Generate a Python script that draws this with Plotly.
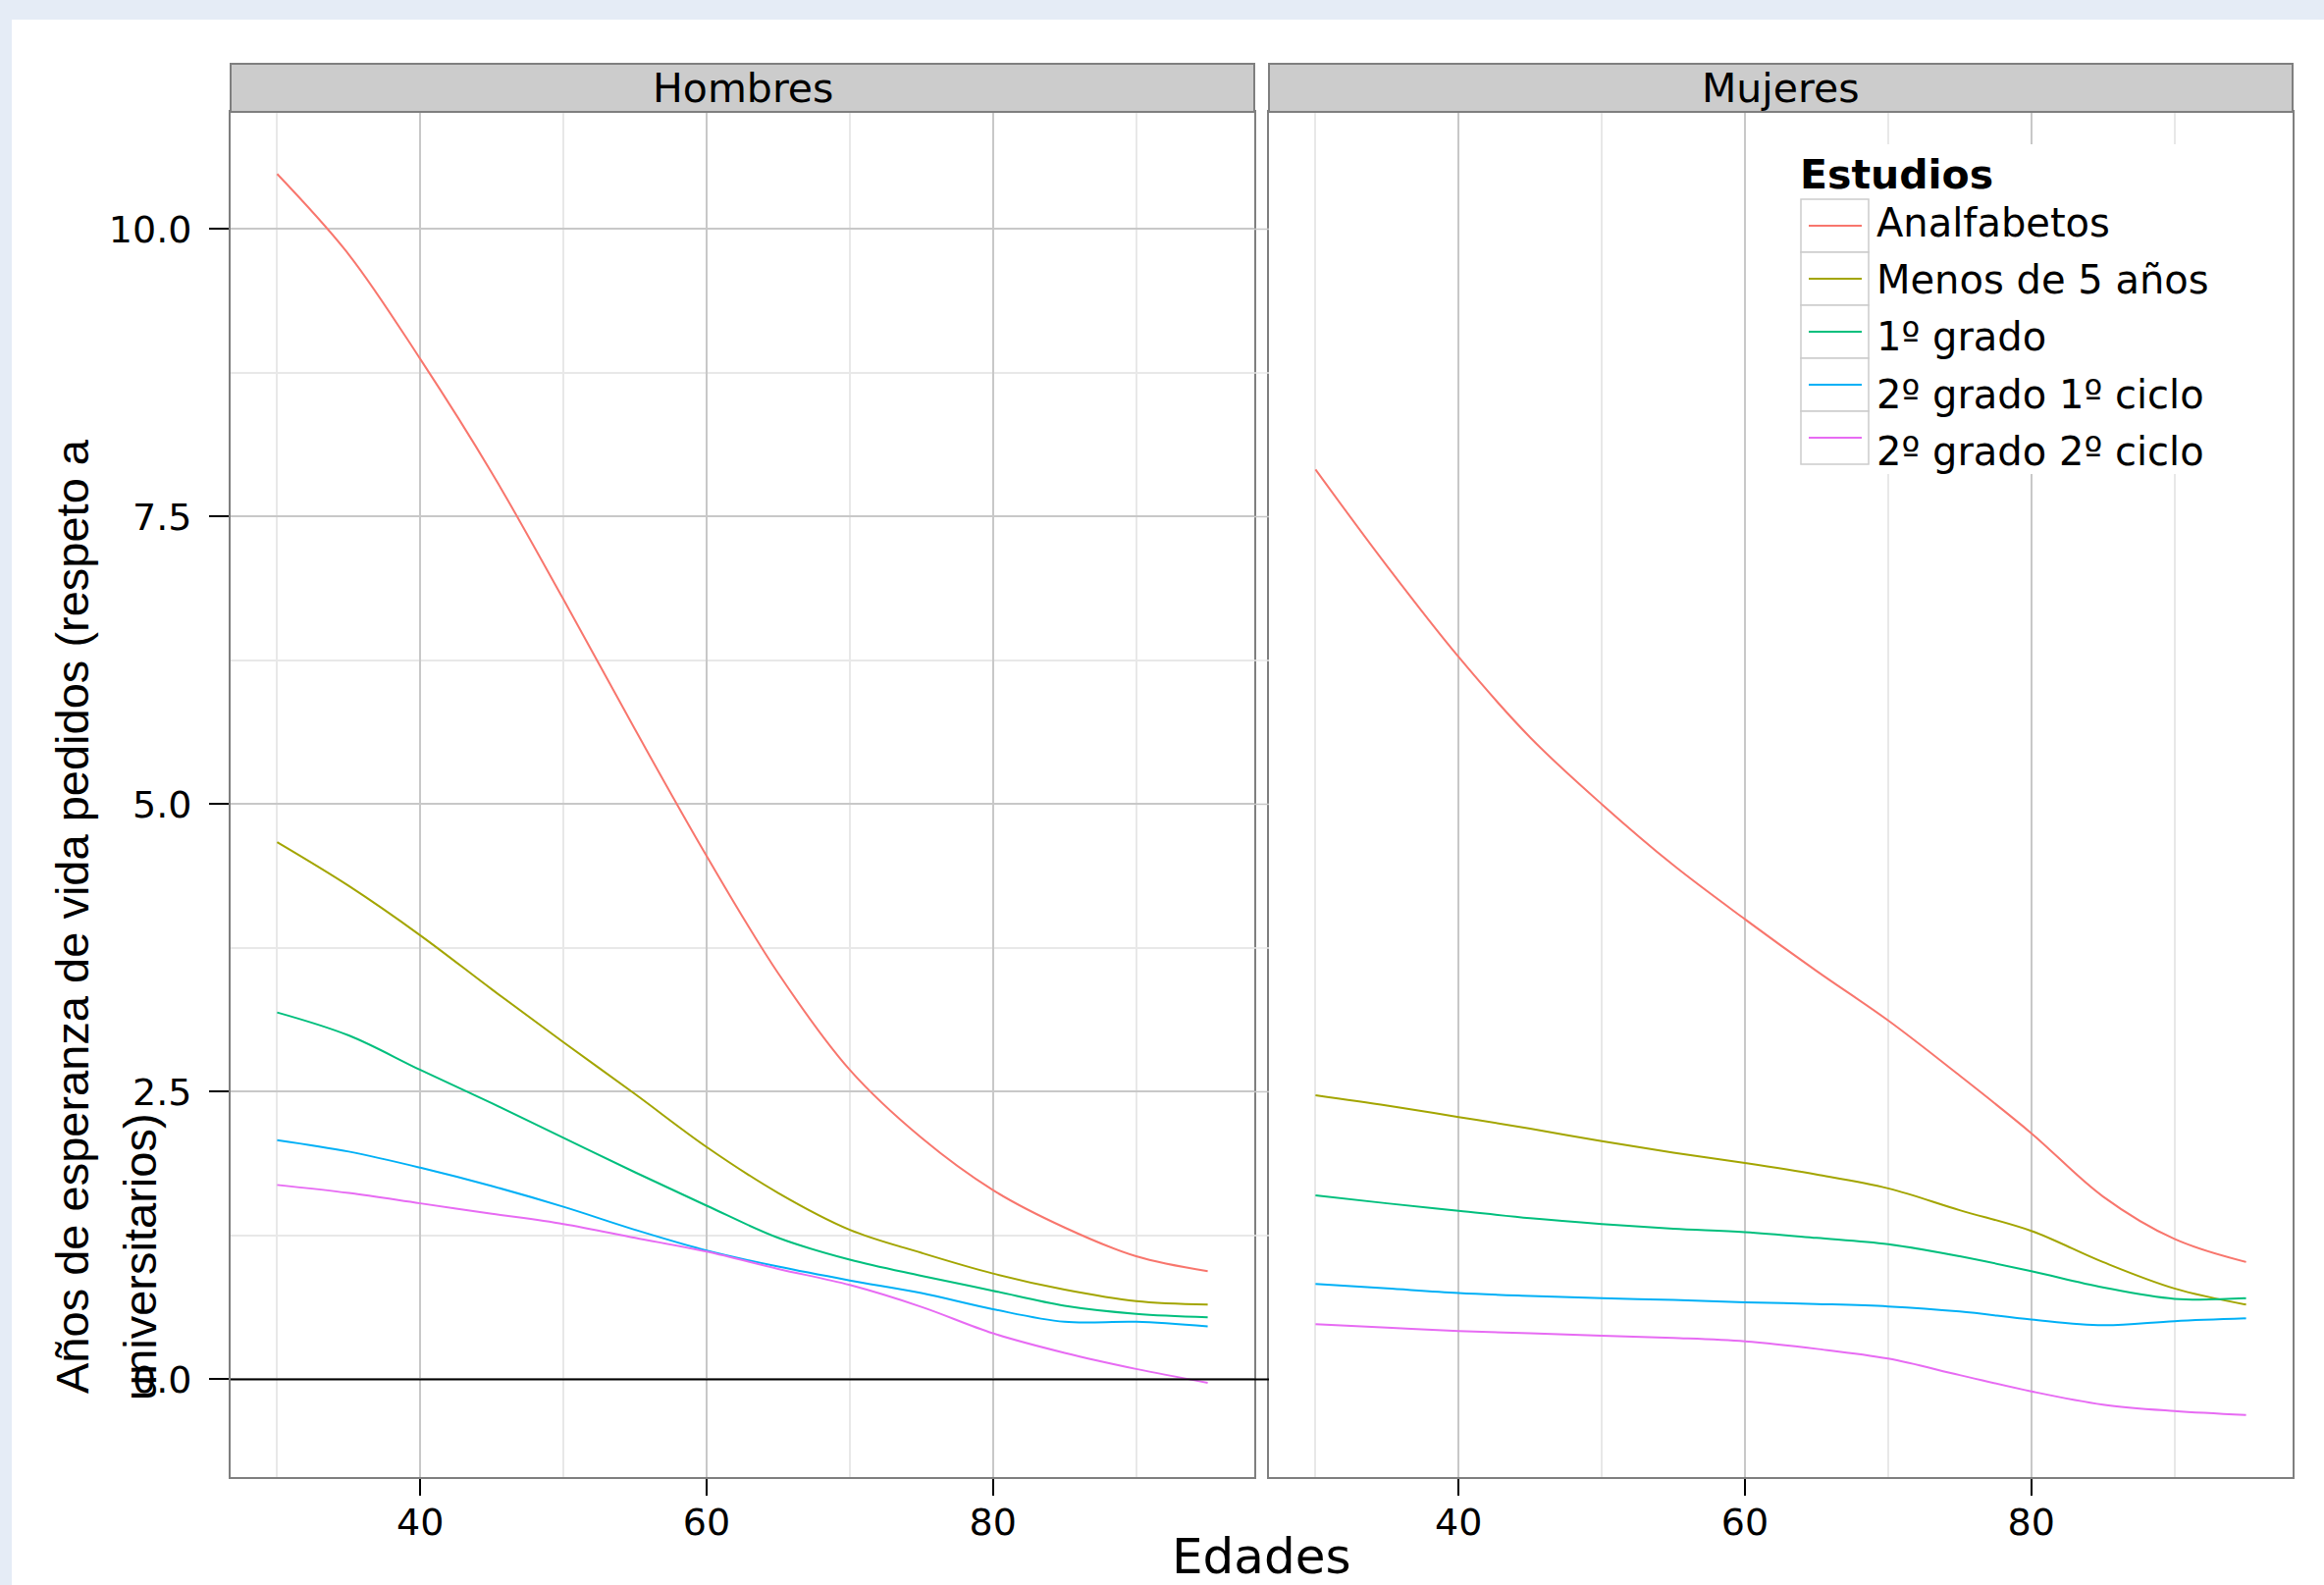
import plotly.graph_objects as go

# ---------------- data ----------------
edades = [30, 35, 40, 45, 50, 55, 60, 65, 70, 75, 80, 85, 90, 95]
niveles = ["Analfabetos", "Menos de 5 años", "1º grado", "2º grado 1º ciclo", "2º grado 2º ciclo"]
paneles = ["Hombres", "Mujeres"]

hombres_analfabetos = [10.48, 9.78, 8.87, 7.88, 6.78, 5.65, 4.55, 3.53, 2.69, 2.10, 1.645, 1.32, 1.07, 0.94]
hombres_menos5 = [4.67, 4.29, 3.86, 3.39, 2.93, 2.48, 2.02, 1.62, 1.30, 1.10, 0.92, 0.78, 0.68, 0.65]
hombres_1grado = [3.19, 2.99, 2.69, 2.40, 2.10, 1.80, 1.51, 1.23, 1.04, 0.90, 0.77, 0.64, 0.57, 0.54]
hombres_2grado1 = [2.08, 1.98, 1.84, 1.68, 1.50, 1.30, 1.12, 0.98, 0.86, 0.75, 0.61, 0.50, 0.50, 0.46]
hombres_2grado2 = [1.69, 1.62, 1.53, 1.44, 1.35, 1.23, 1.11, 0.96, 0.82, 0.63, 0.40, 0.23, 0.09, -0.03]

mujeres_analfabetos = [7.91, 7.07, 6.28, 5.58, 5.00, 4.47, 4.00, 3.55, 3.12, 2.64, 2.14, 1.59, 1.22, 1.02]
mujeres_menos5 = [2.47, 2.38, 2.28, 2.18, 2.07, 1.97, 1.88, 1.78, 1.66, 1.47, 1.29, 1.02, 0.79, 0.65]
mujeres_1grado = [1.60, 1.53, 1.465, 1.40, 1.35, 1.31, 1.28, 1.23, 1.175, 1.07, 0.94, 0.80, 0.70, 0.705]
mujeres_2grado1 = [0.83, 0.79, 0.75, 0.725, 0.705, 0.69, 0.67, 0.655, 0.634, 0.59, 0.52, 0.47, 0.506, 0.53]
mujeres_2grado2 = [0.48, 0.45, 0.42, 0.40, 0.38, 0.36, 0.33, 0.265, 0.18, 0.037, -0.105, -0.22, -0.276, -0.31]

y_tickvals = [0, 2.5, 5, 7.5, 10]
y_ticktext = ["0.0", "2.5", "5.0", "7.5", "10.0"]

titulo_x = "Edades"
titulo_y_lineas = ["Años de esperanza de vida pedidos (respeto a", "universitarios)"]
titulo_leyenda = "Estudios"

# ---------------- style ----------------
colores = ["#F8766D", "#A3A500", "#00BF7D", "#00B0F6", "#E76BF3"]
W, H = 2368, 1615
FONT = "DejaVu Sans"
FONT_T = "Liberation Sans, Arial"

def px(x):
    return x / W

def py(y):
    return 1 - y / H

L1, R1 = 235, 1278
L2, R2 = 1293, 2336
TOP, BOT = 114, 1505
STRIP_TOP = 65

datos = {
    "Hombres": [hombres_analfabetos, hombres_menos5, hombres_1grado, hombres_2grado1, hombres_2grado2],
    "Mujeres": [mujeres_analfabetos, mujeres_menos5, mujeres_1grado, mujeres_2grado1, mujeres_2grado2],
}

fig = go.Figure()
for p_i, panel in enumerate(paneles):
    for s_i, nivel in enumerate(niveles):
        fig.add_trace(go.Scatter(
            x=edades, y=datos[panel][s_i], name=nivel, mode="lines",
            line=dict(color=colores[s_i], width=2, shape="spline", smoothing=1.0),
            xaxis="x" if p_i == 0 else "x2", yaxis="y" if p_i == 0 else "y2",
            showlegend=False, legendgroup=nivel,
        ))

xr = [26.75, 98.25]
yr = [-0.8495, 11.0195]
tickfont = dict(family=FONT, size=38, color="black")

xcommon = dict(range=xr, tickmode="linear", tick0=0, dtick=20, ticks="outside", ticklen=17,
               tickwidth=2, tickcolor="black", showline=True, linecolor="#7f7f7f", linewidth=2,
               mirror=True, showgrid=True, gridcolor="#c8c8c8", gridwidth=1.5,
               minor=dict(tick0=0, dtick=10, showgrid=True, gridcolor="#e8e8e8", gridwidth=1.5),
               zeroline=False, tickfont=tickfont, automargin=False, fixedrange=True,
               ticklabelstandoff=-6)

fig.update_layout(
    width=W, height=H,
    margin=dict(l=0, r=0, t=0, b=0),
    paper_bgcolor="#e5ecf6", plot_bgcolor="white",
    showlegend=False,
    xaxis=dict(domain=[px(L1), px(R1)], anchor="y", **xcommon),
    xaxis2=dict(domain=[px(L2), px(R2)], anchor="y2", **xcommon),
    yaxis=dict(domain=[py(BOT), py(TOP)], range=yr, anchor="x", tickmode="array",
               tickvals=y_tickvals, ticktext=y_ticktext, ticks="outside", ticklen=20,
               tickwidth=2, tickcolor="black", showline=True, linecolor="#7f7f7f", linewidth=2,
               mirror=True, showgrid=True, gridcolor="#c8c8c8", gridwidth=1.5,
               minor=dict(tick0=0, dtick=1.25, showgrid=True, gridcolor="#e8e8e8", gridwidth=1.5),
               zeroline=False, tickfont=tickfont, automargin=False, ticklabelstandoff=10),
    yaxis2=dict(domain=[py(BOT), py(TOP)], range=yr, anchor="x2", showticklabels=False,
                ticks="", showline=True, linecolor="#7f7f7f", linewidth=2, mirror=True,
                showgrid=False, zeroline=False, automargin=False),
)

shapes = []
# white page area
shapes.append(dict(type="rect", xref="paper", yref="paper", x0=px(12), x1=1.0, y0=0.0, y1=py(20),
                   fillcolor="white", line=dict(width=0), layer="below"))
# left-panel horizontal grid continues into the panel gap
for k in range(1, 9):
    v = k * 1.25
    col = "#c8c8c8" if k % 2 == 0 else "#e8e8e8"
    shapes.append(dict(type="line", xref="paper", yref="y", x0=px(R1), x1=px(L2), y0=v, y1=v,
                       line=dict(color=col, width=1.5), layer="above"))
# horizontal reference at zero (left panel)
shapes.append(dict(type="line", xref="paper", yref="y", x0=px(L1), x1=px(L2), y0=0, y1=0,
                   line=dict(color="black", width=2), layer="above"))
# strips
for (a, b) in [(L1, R1), (L2, R2)]:
    shapes.append(dict(type="rect", xref="paper", yref="paper", x0=px(a), x1=px(b),
                       y0=py(TOP), y1=py(STRIP_TOP), fillcolor="#cccccc",
                       line=dict(color="#7f7f7f", width=2), layer="above"))

# legend
LEG_X0, LEG_X1, LEG_Y0, LEG_Y1 = 1820, 2282, 147, 483
KEY_X0, KEY_X1, KEY_TOP, KEY_H = 1835, 1904, 203, 54
LABEL_Y0, LABEL_DY = 227, 58.2
shapes.append(dict(type="rect", xref="paper", yref="paper", x0=px(LEG_X0), x1=px(LEG_X1),
                   y0=py(LEG_Y1), y1=py(LEG_Y0), fillcolor="white", line=dict(width=0),
                   layer="above"))
annotations = []
for i, nivel in enumerate(niveles):
    t = KEY_TOP + i * KEY_H
    shapes.append(dict(type="rect", xref="paper", yref="paper", x0=px(KEY_X0), x1=px(KEY_X1),
                       y0=py(t + KEY_H), y1=py(t), fillcolor="white",
                       line=dict(color="#cccccc", width=1.5), layer="above"))
    cy = t + KEY_H / 2
    shapes.append(dict(type="line", xref="paper", yref="paper", x0=px(KEY_X0 + 8), x1=px(KEY_X1 - 7),
                       y0=py(cy), y1=py(cy), line=dict(color=colores[i], width=2), layer="above"))
    annotations.append(dict(xref="paper", yref="paper", x=px(1910), y=py(LABEL_Y0 + i * LABEL_DY),
                            text=nivel, showarrow=False, xanchor="left", yanchor="middle",
                            font=dict(family=FONT, size=40, color="black")))
annotations.append(dict(xref="paper", yref="paper", x=px(1832), y=py(178), text="<b>%s</b>" % titulo_leyenda,
                        showarrow=False, xanchor="left", yanchor="middle",
                        font=dict(family=FONT, size=41, color="black")))

# strip labels
for (a, b), name in zip([(L1, R1), (L2, R2)], paneles):
    annotations.append(dict(xref="paper", yref="paper", x=px((a + b) / 2), y=py((STRIP_TOP + TOP) / 2),
                            text=name, showarrow=False, xanchor="center", yanchor="middle",
                            font=dict(family=FONT, size=41, color="black")))
# axis titles
annotations.append(dict(xref="paper", yref="paper", x=px((L1 + R2) / 2), y=py(1586), text=titulo_x,
                        showarrow=False, xanchor="center", yanchor="middle",
                        font=dict(family=FONT, size=50, color="black")))
# y title: two lines, both starting at the bottom
annotations.append(dict(xref="paper", yref="paper", x=px(74), y=py(934), text=titulo_y_lineas[0],
                        showarrow=False, xanchor="center", yanchor="middle", textangle=-90,
                        font=dict(family=FONT_T, size=47, color="black")))
annotations.append(dict(xref="paper", yref="paper", x=px(142), y=py(1281), text=titulo_y_lineas[1],
                        showarrow=False, xanchor="center", yanchor="middle", textangle=-90,
                        font=dict(family=FONT_T, size=47, color="black")))

fig.update_layout(shapes=shapes, annotations=annotations)
fig.write_html("out.html")
